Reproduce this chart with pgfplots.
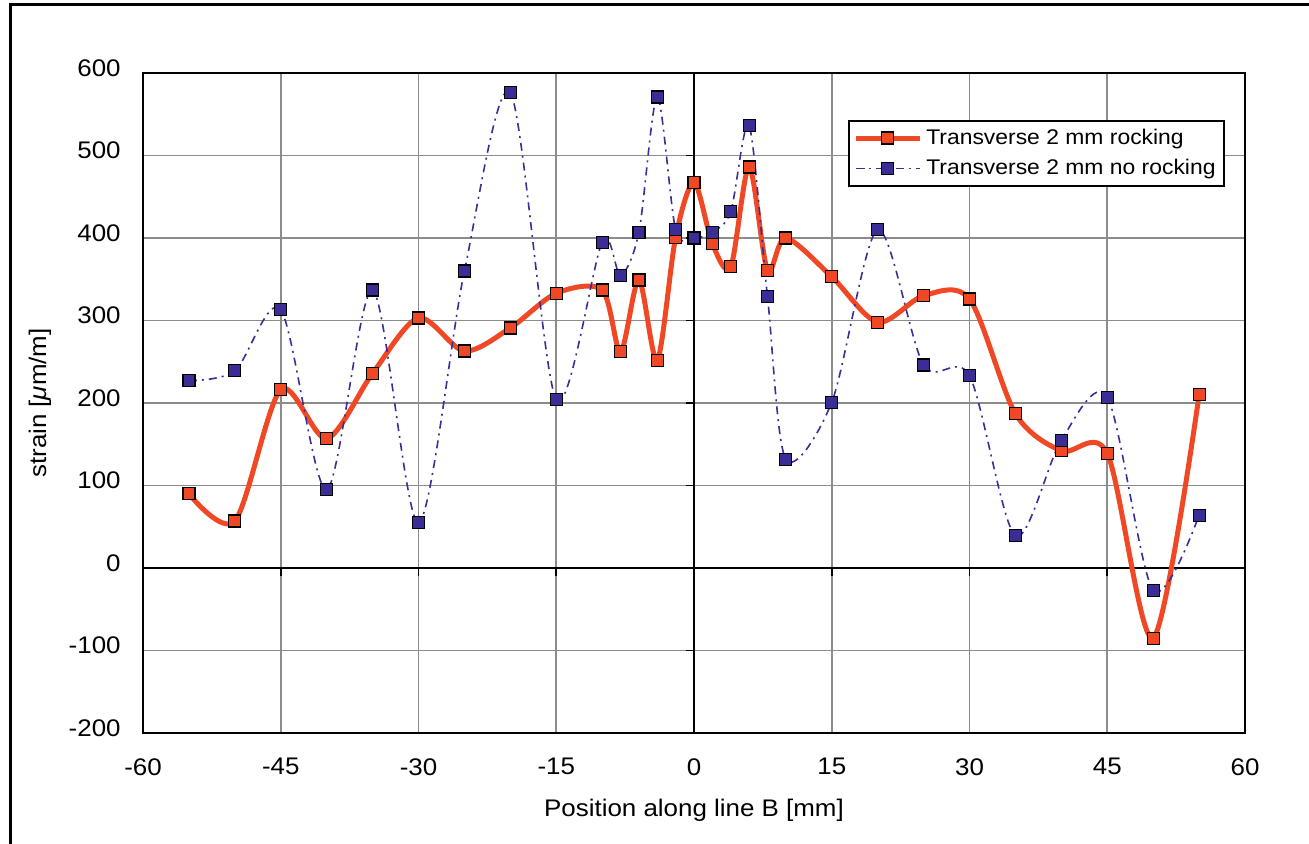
\documentclass[border=0pt]{standalone}
\usepackage{pgfplots}
\pgfplotsset{compat=1.18}
\usepackage{fontspec}
\setmainfont[FakeStretch=1.08]{Liberation Sans}
\definecolor{rockred}{RGB}{240,72,36}
\definecolor{noblue}{RGB}{58,46,150}
\definecolor{gridgray}{RGB}{140,140,140}
\begin{document}
\begin{tikzpicture}
\useasboundingbox (-71.5pt,-55.5pt) rectangle (583pt,366.5pt);
\draw[line width=1.5pt] (-66pt,-60pt) -- (-66pt,364pt) -- (590pt,364pt);
\begin{axis}[
  at={(0pt,0pt)}, anchor=south west,
  scale only axis, width=551pt, height=330pt,
  xmin=-60, xmax=60, ymin=-200, ymax=600,
  xtick={-60,-45,-30,-15,0,15,30,45,60},
  ytick={-200,-100,0,100,200,300,400,500,600},
  grid=major, major grid style={gridgray, line width=0.8pt},
  major tick length=0pt,
  axis line style={line width=1.2pt},
  tick label style={font=\fontsize{12}{14}\selectfont},
  /pgf/number format/assume math mode=true,
  xticklabel style={anchor=north, inner sep=0pt, yshift=-12.5pt},
  yticklabel style={anchor=east, inner sep=0pt, xshift=-11pt, yshift=2.5pt},
  extra x ticks={0}, extra y ticks={0},
  extra x tick labels={}, extra y tick labels={},
  extra tick style={major grid style={black, line width=0.9pt}},
  xlabel={Position along line B [mm]},
  ylabel={strain [{\itshape μ}m/m]},
  label style={font=\fontsize{12}{14}\selectfont},
  xlabel style={at={(axis description cs:0.5,0)}, anchor=center, yshift=-38.5pt},
  ylabel style={at={(axis description cs:-0.0935,0.5)}, anchor=center},
  legend style={at={(0.640,0.929)}, anchor=north west, draw=black, line width=1pt,
    font=\fontsize{10.6}{12}\selectfont, inner xsep=2pt, inner ysep=2pt,
    row sep=2pt, cells={anchor=west}},
  legend image code/.code={\draw[mark repeat=2,mark phase=2] plot coordinates {(0pt,0pt) (16pt,0pt) (32pt,0pt)};},
]
\addplot[smooth, color=rockred, line width=2.5pt, mark=square*, mark size=3pt,
  mark options={solid, fill=rockred, draw=black, line width=0.6pt}]
  coordinates {(-55,90) (-50,57) (-45,216) (-40,157) (-35,236) (-30,303) (-25,263) (-20,291) (-15,333) (-10,337) (-8,262) (-6,349) (-4,252) (-2,401) (0,467) (2,393) (4,365) (6,486) (8,361) (10,400) (15,353) (20,298) (25,330) (30,326) (35,187) (40,142) (45,139) (50,-85) (55,210)};
\addlegendentry{Transverse 2 mm rocking}
\addplot[smooth, color=noblue, line width=0.8pt, dash pattern=on 4pt off 2.5pt on 1pt off 2.5pt,
  mark=square*, mark size=3pt,
  mark options={solid, fill=noblue, draw=black, line width=0.6pt}]
  coordinates {(-55,227) (-50,239) (-45,313) (-40,95) (-35,337) (-30,55) (-25,360) (-20,576) (-15,204) (-10,395) (-8,355) (-6,407) (-4,571) (-2,410) (0,400) (2,407) (4,432) (6,536) (8,329) (10,132) (15,201) (20,410) (25,246) (30,233) (35,39) (40,155) (45,207) (50,-27) (55,64)};
\addlegendentry{Transverse 2 mm no rocking}
\pgfplotsinvokeforeach{-45,-30,-15,15,30,45}{\draw[line width=0.8pt] (axis cs:#1,0) -- ++(0pt,-4pt);}
\pgfplotsinvokeforeach{-100,100,200,300,400,500}{\draw[line width=0.8pt] (axis cs:0,#1) -- ++(-4pt,0pt);}
\end{axis}
\end{tikzpicture}
\end{document}
